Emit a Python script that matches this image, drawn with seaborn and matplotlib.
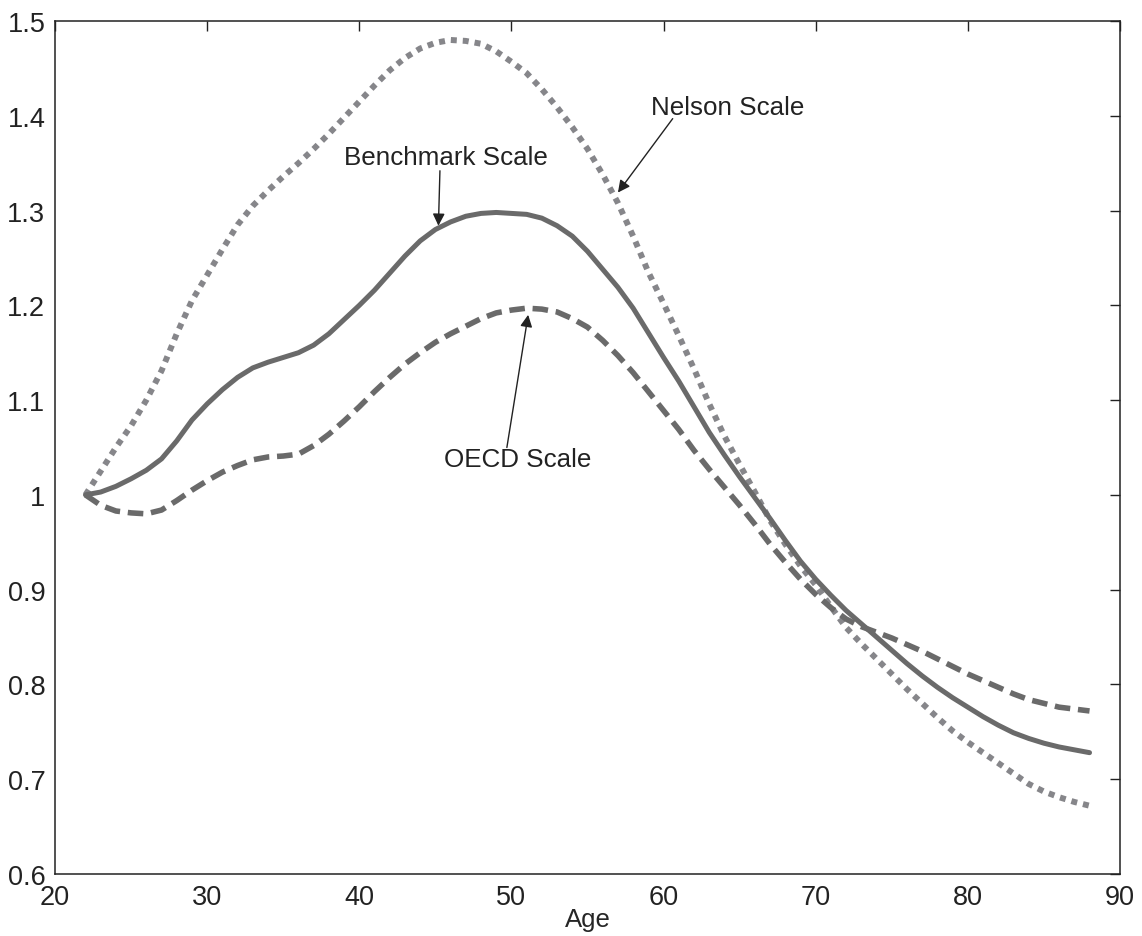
import numpy as np
import pandas as pd
import matplotlib
matplotlib.use("Agg")
import matplotlib.pyplot as plt
import seaborn as sns

# values, one per year of age
age = list(range(22, 89))

nelson = [1.000, 1.025, 1.050, 1.073, 1.100, 1.131, 1.170, 1.205, 1.232, 1.259,
          1.285, 1.305, 1.321, 1.336, 1.350, 1.365, 1.381, 1.398, 1.415, 1.432,
          1.448, 1.461, 1.471, 1.477, 1.480, 1.479, 1.476, 1.468, 1.457, 1.445,
          1.428, 1.409, 1.388, 1.365, 1.338, 1.308, 1.273, 1.235, 1.202, 1.168,
          1.133, 1.096, 1.062, 1.032, 1.003, 0.973, 0.948, 0.925, 0.905, 0.882,
          0.860, 0.843, 0.827, 0.811, 0.795, 0.780, 0.765, 0.751, 0.739, 0.728,
          0.717, 0.706, 0.695, 0.687, 0.681, 0.676, 0.672]

benchmark = [1.000, 1.003, 1.009, 1.017, 1.026, 1.038, 1.057, 1.079, 1.096, 1.111,
             1.124, 1.134, 1.140, 1.145, 1.150, 1.158, 1.170, 1.185, 1.200, 1.216,
             1.234, 1.252, 1.268, 1.280, 1.288, 1.294, 1.297, 1.298, 1.297, 1.296,
             1.292, 1.284, 1.273, 1.257, 1.238, 1.219, 1.197, 1.171, 1.145, 1.120,
             1.093, 1.066, 1.042, 1.019, 0.997, 0.975, 0.952, 0.930, 0.911, 0.894,
             0.878, 0.864, 0.850, 0.836, 0.822, 0.809, 0.797, 0.786, 0.776, 0.766,
             0.757, 0.749, 0.743, 0.738, 0.734, 0.731, 0.728]

oecd = [1.000, 0.989, 0.983, 0.981, 0.980, 0.984, 0.994, 1.005, 1.015, 1.024,
        1.031, 1.037, 1.040, 1.041, 1.043, 1.052, 1.064, 1.078, 1.093, 1.109,
        1.124, 1.138, 1.150, 1.161, 1.170, 1.178, 1.186, 1.192, 1.195, 1.197,
        1.196, 1.193, 1.186, 1.177, 1.163, 1.147, 1.129, 1.109, 1.089, 1.069,
        1.047, 1.027, 1.008, 0.989, 0.969, 0.948, 0.929, 0.911, 0.895, 0.881,
        0.869, 0.861, 0.855, 0.849, 0.842, 0.835, 0.827, 0.819, 0.811, 0.804,
        0.797, 0.790, 0.784, 0.780, 0.776, 0.774, 0.772]

x_ticks = [20, 30, 40, 50, 60, 70, 80, 90]
y_ticks = [0.6, 0.7, 0.8, 0.9, 1.0, 1.1, 1.2, 1.3, 1.4, 1.5]
y_tick_labels = ["0.6", "0.7", "0.8", "0.9", "1", "1.1", "1.2", "1.3", "1.4", "1.5"]

sns.set_style("white")
plt.rcParams["font.family"] = ["Liberation Sans", "DejaVu Sans"]

fig = plt.figure(figsize=(11.42, 9.37), dpi=100)
ax = fig.add_axes([0.0482, 0.0662, 0.9325, 0.9103])

dark = "#6a6a6a"
light = "#86868a"

sns.lineplot(x=age, y=nelson, ax=ax, color=light, lw=4.3,
             linestyle=(0, (1, 1)), dash_capstyle="butt")
sns.lineplot(x=age, y=benchmark, ax=ax, color=dark, lw=3.6)
sns.lineplot(x=age, y=oecd, ax=ax, color=dark, lw=4.0,
             linestyle=(0, (2.8, 1.4)), dash_capstyle="butt")

ax.set_xlim(20, 90)
ax.set_ylim(0.6, 1.5)
ax.set_xticks(x_ticks)
ax.set_yticks(y_ticks)
ax.set_yticklabels(y_tick_labels)
ax.set_xlabel("Age", fontsize=18.5, labelpad=-2)
ax.set_ylabel("")

ax.tick_params(direction="in", length=7, width=1, colors="#222222",
               labelsize=19.5, top=True, right=True)
ax.tick_params(axis="x", pad=7)
ax.tick_params(axis="y", pad=7)
for sp in ax.spines.values():
    sp.set_visible(True)
    sp.set_color("#222222")
    sp.set_linewidth(1.1)

arrow = dict(arrowstyle="-|>", color="#222222", lw=1.0,
             mutation_scale=18, shrinkA=0, shrinkB=0)

ax.text(45.7, 1.357, "Benchmark Scale", fontsize=18.7, color="#222222",
        ha="center", va="center")
ax.annotate("", xy=(45.2, 1.284), xytext=(45.3, 1.342), arrowprops=arrow)

ax.text(64.2, 1.409, "Nelson Scale", fontsize=18.7, color="#222222",
        ha="center", va="center")
ax.annotate("", xy=(57.0, 1.319), xytext=(60.6, 1.397), arrowprops=arrow)

ax.text(50.4, 1.038, "OECD Scale", fontsize=18.7, color="#222222",
        ha="center", va="center")
ax.annotate("", xy=(51.1, 1.190), xytext=(49.7, 1.050), arrowprops=arrow)

fig.savefig("out.png", dpi=100)
